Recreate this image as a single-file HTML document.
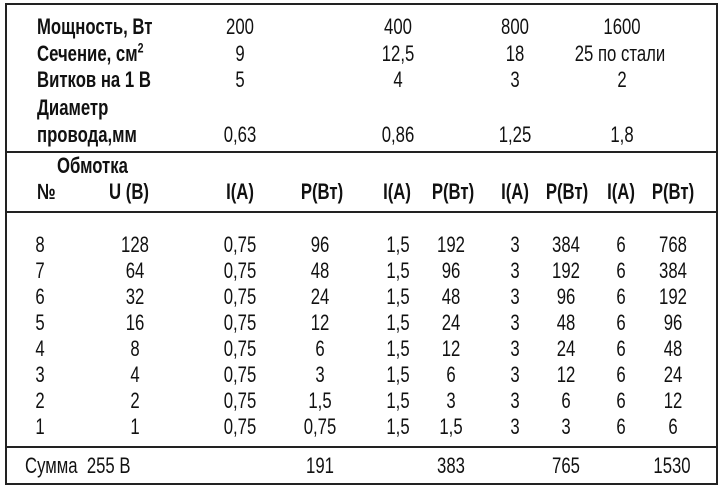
<!DOCTYPE html>
<html><head><meta charset="utf-8"><style>
html,body{margin:0;padding:0;background:#fff;}
body{width:724px;height:488px;position:relative;overflow:hidden;font-family:"Liberation Sans",sans-serif;font-size:22px;color:#111;}
.f{position:absolute;left:5px;top:3px;width:709px;height:478px;border:2px solid #222;}
.h{position:absolute;left:5px;width:713px;height:2px;background:#222;}
.c{position:absolute;width:120px;margin-left:-60px;text-align:center;line-height:20px;margin-top:-10px;white-space:nowrap;transform:scaleX(0.76);}
.l{position:absolute;line-height:20px;margin-top:-10px;white-space:nowrap;transform:scaleX(0.76);transform-origin:0 50%;}
.b{font-weight:bold;}
sup{font-size:14px;line-height:0;}
</style></head><body>
<div class="f"></div>
<div class="h" style="top:151px"></div>
<div class="h" style="top:211px"></div>
<div class="h" style="top:446px"></div>

<div class="l b" style="left:37px;top:27px">Мощность, Вт</div>
<div class="l b" style="left:37px;top:54px">Сечение, см<sup>2</sup></div>
<div class="l b" style="left:37px;top:80px">Витков на 1 В</div>
<div class="l b" style="left:37px;top:108px">Диаметр</div>
<div class="l b" style="left:37px;top:135px">провода,мм</div>

<div class="c" style="left:240px;top:27px">200</div>
<div class="c" style="left:398px;top:27px">400</div>
<div class="c" style="left:515px;top:27px">800</div>
<div class="c" style="left:622px;top:27px">1600</div>
<div class="c" style="left:240px;top:54px">9</div>
<div class="c" style="left:398px;top:54px">12,5</div>
<div class="c" style="left:515px;top:54px">18</div>
<div class="c" style="left:620px;top:54px">25 по стали</div>
<div class="c" style="left:240px;top:80px">5</div>
<div class="c" style="left:398px;top:80px">4</div>
<div class="c" style="left:515px;top:80px">3</div>
<div class="c" style="left:622px;top:80px">2</div>
<div class="c" style="left:240px;top:135px">0,63</div>
<div class="c" style="left:398px;top:135px">0,86</div>
<div class="c" style="left:515px;top:135px">1,25</div>
<div class="c" style="left:622px;top:135px">1,8</div>

<div class="l b" style="left:57px;top:166px">Обмотка</div>
<div class="l b" style="left:37px;top:192px">№</div>
<div class="c b" style="left:129px;top:192px">U (B)</div>
<div class="c b" style="left:240px;top:192px">I(A)</div>
<div class="c b" style="left:322px;top:192px">P(Вт)</div>
<div class="c b" style="left:397px;top:192px">I(A)</div>
<div class="c b" style="left:453px;top:192px">P(Вт)</div>
<div class="c b" style="left:515px;top:192px">I(A)</div>
<div class="c b" style="left:567px;top:192px">P(Вт)</div>
<div class="c b" style="left:621px;top:192px">I(A)</div>
<div class="c b" style="left:673px;top:192px">P(Вт)</div>

<div class="c" style="left:40px;top:245px">8</div><div class="c" style="left:135px;top:245px">128</div><div class="c" style="left:240px;top:245px">0,75</div><div class="c" style="left:320px;top:245px">96</div><div class="c" style="left:398px;top:245px">1,5</div><div class="c" style="left:451px;top:245px">192</div><div class="c" style="left:515px;top:245px">3</div><div class="c" style="left:566px;top:245px">384</div><div class="c" style="left:621px;top:245px">6</div><div class="c" style="left:673px;top:245px">768</div>
<div class="c" style="left:40px;top:271px">7</div><div class="c" style="left:135px;top:271px">64</div><div class="c" style="left:240px;top:271px">0,75</div><div class="c" style="left:320px;top:271px">48</div><div class="c" style="left:398px;top:271px">1,5</div><div class="c" style="left:451px;top:271px">96</div><div class="c" style="left:515px;top:271px">3</div><div class="c" style="left:566px;top:271px">192</div><div class="c" style="left:621px;top:271px">6</div><div class="c" style="left:673px;top:271px">384</div>
<div class="c" style="left:40px;top:297px">6</div><div class="c" style="left:135px;top:297px">32</div><div class="c" style="left:240px;top:297px">0,75</div><div class="c" style="left:320px;top:297px">24</div><div class="c" style="left:398px;top:297px">1,5</div><div class="c" style="left:451px;top:297px">48</div><div class="c" style="left:515px;top:297px">3</div><div class="c" style="left:566px;top:297px">96</div><div class="c" style="left:621px;top:297px">6</div><div class="c" style="left:673px;top:297px">192</div>
<div class="c" style="left:40px;top:323px">5</div><div class="c" style="left:135px;top:323px">16</div><div class="c" style="left:240px;top:323px">0,75</div><div class="c" style="left:320px;top:323px">12</div><div class="c" style="left:398px;top:323px">1,5</div><div class="c" style="left:451px;top:323px">24</div><div class="c" style="left:515px;top:323px">3</div><div class="c" style="left:566px;top:323px">48</div><div class="c" style="left:621px;top:323px">6</div><div class="c" style="left:673px;top:323px">96</div>
<div class="c" style="left:40px;top:349px">4</div><div class="c" style="left:135px;top:349px">8</div><div class="c" style="left:240px;top:349px">0,75</div><div class="c" style="left:320px;top:349px">6</div><div class="c" style="left:398px;top:349px">1,5</div><div class="c" style="left:451px;top:349px">12</div><div class="c" style="left:515px;top:349px">3</div><div class="c" style="left:566px;top:349px">24</div><div class="c" style="left:621px;top:349px">6</div><div class="c" style="left:673px;top:349px">48</div>
<div class="c" style="left:40px;top:375px">3</div><div class="c" style="left:135px;top:375px">4</div><div class="c" style="left:240px;top:375px">0,75</div><div class="c" style="left:320px;top:375px">3</div><div class="c" style="left:398px;top:375px">1,5</div><div class="c" style="left:451px;top:375px">6</div><div class="c" style="left:515px;top:375px">3</div><div class="c" style="left:566px;top:375px">12</div><div class="c" style="left:621px;top:375px">6</div><div class="c" style="left:673px;top:375px">24</div>
<div class="c" style="left:40px;top:401px">2</div><div class="c" style="left:135px;top:401px">2</div><div class="c" style="left:240px;top:401px">0,75</div><div class="c" style="left:320px;top:401px">1,5</div><div class="c" style="left:398px;top:401px">1,5</div><div class="c" style="left:451px;top:401px">3</div><div class="c" style="left:515px;top:401px">3</div><div class="c" style="left:566px;top:401px">6</div><div class="c" style="left:621px;top:401px">6</div><div class="c" style="left:673px;top:401px">12</div>
<div class="c" style="left:40px;top:427px">1</div><div class="c" style="left:135px;top:427px">1</div><div class="c" style="left:240px;top:427px">0,75</div><div class="c" style="left:320px;top:427px">0,75</div><div class="c" style="left:398px;top:427px">1,5</div><div class="c" style="left:451px;top:427px">1,5</div><div class="c" style="left:515px;top:427px">3</div><div class="c" style="left:566px;top:427px">3</div><div class="c" style="left:621px;top:427px">6</div><div class="c" style="left:673px;top:427px">6</div>

<div class="l" style="left:25px;top:466px">Сумма&nbsp; 255 В</div>
<div class="c" style="left:320px;top:466px">191</div>
<div class="c" style="left:451px;top:466px">383</div>
<div class="c" style="left:566px;top:466px">765</div>
<div class="c" style="left:672px;top:466px">1530</div>
</body></html>
